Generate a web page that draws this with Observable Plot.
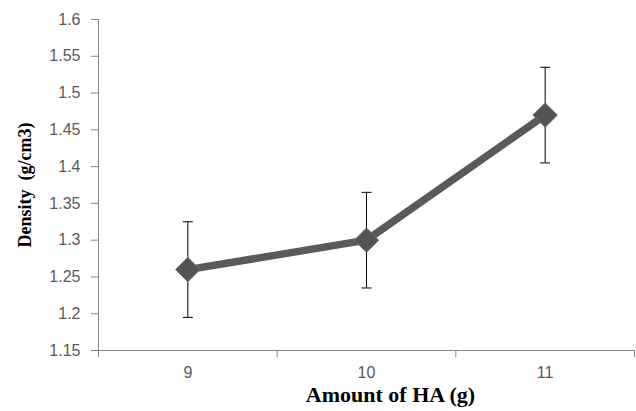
<!DOCTYPE html>
<html><head><meta charset="utf-8">
<script src="https://cdn.jsdelivr.net/npm/d3@7"></script>
<script src="https://cdn.jsdelivr.net/npm/@observablehq/plot@0.6"></script>
<style>body{margin:0;background:#fff}</style>
</head><body><div id="chart"></div>
<script>
const amounts = [9, 10, 11];
const density = [1.26, 1.30, 1.47];
const errors = [0.065, 0.065, 0.065];
const yTicks = [1.15, 1.2, 1.25, 1.3, 1.35, 1.4, 1.45, 1.5, 1.55, 1.6];
const xTickLabels = ["9", "10", "11"];
const xBoundaries = [8.5, 9.5, 10.5, 11.5];
const xTitle = "Amount of HA (g)";
const yTitle = "Density  (g/cm3)";

const data = amounts.map((a, i) => ({a, d: density[i], lo: density[i] - errors[i], hi: density[i] + errors[i]}));
const cap = {draw(ctx) { ctx.moveTo(-5, 0); ctx.lineTo(5, 0); }};

const chart = Plot.plot({
  width: 636, height: 411,
  marginLeft: 98, marginRight: 2, marginTop: 19, marginBottom: 61,
  style: {fontFamily: "'Liberation Sans', sans-serif", fontSize: "16px", color: "#595959", background: "white"},
  x: {domain: [8.5, 11.5]},
  y: {domain: [1.15, 1.6]},
  marks: [
    Plot.axisY(yTicks, {tickSize: 7, tickPadding: 11, tickFormat: d => String(+d.toFixed(2)), stroke: "#868686", fill: "#595959", label: null, fontSize: 16}),
    Plot.axisX(xBoundaries, {tickSize: 7, tickFormat: () => "", stroke: "#868686", label: null}),
    Plot.axisX(amounts, {tickSize: 0, tickPadding: 16, tickFormat: (d, i) => xTickLabels[i], fill: "#595959", label: null, fontSize: 16}),
    Plot.ruleX([xBoundaries[0]], {stroke: "#868686"}),
    Plot.ruleY([yTicks[0]], {stroke: "#868686"}),
    Plot.ruleX(data, {x: "a", y1: "lo", y2: "hi", stroke: "black", strokeWidth: 1}),
    Plot.dot(data, {x: "a", y: "lo", symbol: cap, stroke: "black", strokeWidth: 1}),
    Plot.dot(data, {x: "a", y: "hi", symbol: cap, stroke: "black", strokeWidth: 1}),
    Plot.line(data, {x: "a", y: "d", stroke: "#5a5a5a", strokeWidth: 7.5}),
    Plot.dot(data, {x: "a", y: "d", symbol: "diamond2", r: 11, fill: "#545454", stroke: "#6e6e6e", strokeWidth: 1}),
    Plot.text([yTitle], {frameAnchor: "left", textAnchor: "middle", rotate: -90, dx: -73, dy: 0, fontFamily: "'Liberation Serif', serif", fontWeight: "bold", fontSize: 18, fill: "black"}),
    Plot.text([xTitle], {frameAnchor: "bottom", textAnchor: "middle", dx: 24, dy: 51, fontFamily: "'Liberation Serif', serif", fontWeight: "bold", fontSize: 22, fill: "black"})
  ]
});
document.getElementById("chart").appendChild(chart);
</script>
</body></html>
